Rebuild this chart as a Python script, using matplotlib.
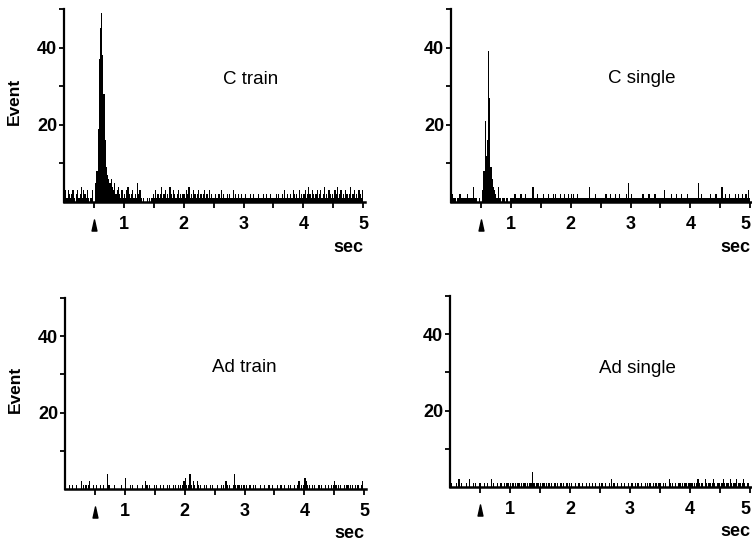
"""
Peristimulus histograms: C / Ad fibre stimulation, train vs single pulse.
Counts per 20 ms bin, 0-5 s, stimulus at 0.5 s.
"""

import numpy as np
import matplotlib.pyplot as plt
from matplotlib.path import Path
from matplotlib.transforms import blended_transform_factory

plt.rcParams['font.family'] = ['Liberation Sans', 'DejaVu Sans']

bin_width = 0.02
stim_time = 0.5

# Counts per bin, one row = 0.5 s (25 bins)
c_train = [
    2, 3, 1, 3, 2, 1, 2, 3, 1, 0, 2, 3, 1, 2, 4, 1, 3, 2, 1, 3, 1, 0, 1, 3, 0,
    0, 5, 8, 19, 37, 45, 49, 38, 28, 16, 9, 7, 6, 5, 6, 4, 3, 5, 2, 3, 4, 2, 1, 3, 1,
    2, 1, 3, 4, 2, 1, 2, 3, 1, 2, 1, 5, 2, 3, 1, 0, 1, 0, 0, 1, 0, 1, 0, 1, 2,
    1, 3, 1, 2, 1, 2, 4, 1, 2, 3, 1, 2, 1, 4, 2, 1, 3, 2, 1, 2, 3, 1, 2, 1, 2,
    2, 1, 3, 2, 4, 1, 2, 1, 3, 2, 1, 2, 3, 1, 2, 1, 2, 3, 1, 2, 1, 3, 1, 2, 1,
    1, 2, 1, 1, 2, 1, 3, 1, 2, 1, 1, 2, 1, 2, 1, 1, 3, 1, 2, 1, 2, 1, 1, 2, 1,
    1, 2, 1, 1, 1, 2, 1, 1, 2, 1, 1, 1, 2, 1, 1, 1, 2, 1, 1, 2, 1, 1, 2, 1, 1,
    1, 1, 2, 1, 2, 1, 1, 2, 1, 3, 1, 2, 1, 1, 2, 1, 3, 2, 1, 2, 1, 3, 1, 2, 1,
    2, 3, 1, 2, 4, 2, 1, 3, 2, 1, 2, 3, 1, 2, 3, 1, 2, 4, 1, 2, 1, 3, 2, 1, 2,
    1, 3, 2, 4, 1, 2, 3, 1, 2, 1, 3, 2, 1, 2, 4, 1, 2, 3, 1, 2, 1, 3, 2, 1, 3,
]

c_single = [
    1, 2, 1, 1, 0, 1, 1, 2, 1, 1, 1, 1, 1, 2, 1, 1, 1, 1, 4, 1, 1, 1, 0, 1, 0,
    0, 3, 8, 21, 12, 16, 39, 27, 9, 6, 4, 3, 2, 1, 4, 1, 1, 0, 1, 1, 0, 1, 1, 0, 1,
    1, 1, 1, 2, 1, 1, 1, 1, 2, 1, 1, 1, 2, 1, 1, 1, 1, 1, 4, 1, 1, 1, 2, 1, 1,
    1, 1, 2, 1, 1, 1, 2, 1, 1, 1, 2, 1, 2, 1, 1, 1, 2, 1, 1, 2, 1, 1, 1, 2, 1,
    2, 1, 2, 1, 1, 2, 1, 1, 1, 1, 1, 1, 1, 1, 1, 4, 1, 1, 1, 1, 2, 1, 1, 1, 1,
    1, 1, 1, 1, 2, 1, 1, 1, 2, 1, 1, 1, 2, 1, 1, 2, 1, 1, 1, 1, 1, 2, 1, 5, 1,
    2, 1, 1, 1, 1, 1, 1, 1, 1, 1, 2, 1, 1, 1, 1, 2, 1, 1, 1, 1, 2, 1, 1, 1, 1,
    1, 1, 1, 3, 1, 1, 1, 1, 1, 2, 1, 1, 1, 2, 1, 1, 1, 2, 1, 1, 1, 1, 2, 1, 1,
    1, 1, 1, 1, 1, 1, 5, 1, 1, 2, 1, 1, 1, 1, 1, 1, 2, 1, 1, 1, 1, 2, 1, 1, 1,
    1, 4, 1, 1, 2, 1, 1, 2, 1, 1, 1, 1, 2, 1, 1, 2, 1, 1, 2, 1, 1, 2, 1, 3, 1,
]

ad_train = [
    1, 0, 0, 1, 0, 0, 1, 0, 0, 1, 0, 0, 0, 2, 0, 1, 0, 1, 0, 1, 2, 0, 0, 1, 0,
    0, 1, 0, 0, 1, 0, 0, 1, 0, 0, 4, 1, 1, 0, 0, 0, 1, 0, 0, 0, 0, 0, 1, 0, 0,
    3, 0, 0, 0, 1, 0, 1, 0, 0, 0, 1, 0, 0, 0, 1, 0, 0, 2, 1, 0, 1, 0, 0, 0, 1,
    0, 1, 0, 0, 1, 0, 0, 1, 0, 0, 1, 0, 1, 0, 0, 1, 0, 1, 0, 1, 0, 1, 0, 1, 2,
    3, 1, 0, 1, 4, 1, 0, 2, 1, 0, 2, 1, 0, 1, 0, 0, 1, 0, 1, 0, 0, 1, 0, 1, 0,
    0, 0, 1, 0, 0, 1, 0, 1, 0, 2, 1, 0, 1, 0, 0, 1, 4, 1, 0, 1, 1, 0, 1, 0, 1,
    0, 1, 0, 0, 1, 0, 0, 1, 0, 1, 0, 0, 0, 1, 0, 0, 1, 0, 0, 0, 1, 0, 0, 1, 0,
    0, 0, 1, 0, 0, 1, 0, 0, 1, 0, 0, 1, 0, 1, 0, 0, 1, 0, 0, 1, 2, 0, 1, 0, 1,
    3, 2, 1, 0, 1, 0, 1, 0, 1, 0, 0, 1, 1, 0, 1, 0, 0, 1, 0, 0, 1, 0, 1, 0, 1,
    2, 1, 0, 1, 0, 1, 0, 0, 1, 0, 1, 1, 0, 1, 0, 1, 0, 1, 0, 1, 1, 0, 1, 2, 0,
]

ad_single = [
    0, 1, 0, 0, 0, 1, 0, 2, 0, 1, 0, 0, 0, 1, 0, 0, 2, 0, 0, 1, 0, 1, 0, 0, 1,
    1, 0, 0, 1, 0, 0, 1, 0, 0, 2, 0, 1, 0, 0, 1, 0, 0, 1, 0, 0, 1, 0, 1, 1, 0,
    1, 0, 1, 0, 1, 0, 1, 1, 0, 1, 0, 1, 1, 0, 1, 0, 1, 1, 4, 1, 1, 0, 1, 1, 0,
    1, 0, 1, 1, 0, 1, 0, 1, 0, 1, 0, 0, 1, 0, 1, 0, 0, 1, 0, 1, 0, 0, 1, 0, 1,
    0, 1, 0, 0, 1, 0, 0, 1, 0, 0, 1, 0, 0, 1, 0, 0, 1, 0, 1, 0, 0, 1, 0, 0, 1,
    0, 1, 0, 0, 1, 0, 0, 1, 0, 2, 0, 1, 0, 0, 1, 0, 0, 1, 0, 0, 1, 0, 0, 1, 0,
    0, 1, 0, 0, 1, 0, 1, 0, 0, 1, 0, 0, 1, 0, 1, 0, 1, 0, 0, 1, 0, 1, 0, 1, 1,
    1, 0, 1, 0, 1, 0, 0, 2, 1, 0, 1, 0, 1, 0, 0, 1, 1, 0, 1, 0, 1, 1, 0, 1, 1,
    1, 1, 0, 1, 0, 1, 2, 1, 0, 1, 1, 0, 2, 1, 0, 1, 1, 0, 1, 2, 1, 0, 1, 1, 1,
    0, 1, 2, 1, 0, 1, 1, 0, 2, 1, 0, 1, 1, 2, 0, 1, 1, 0, 1, 2, 1, 0, 1, 1, 0,
]

titles = ['C train', 'C single', 'Ad train', 'Ad single']
x_ticks = [0.5, 1, 1.5, 2, 2.5, 3, 3.5, 4, 4.5, 5]
x_tick_labels = ['', '1', '', '2', '', '3', '', '4', '', '5']
y_ticks = [10, 20, 30, 40, 50]
y_tick_labels = ['', '20', '', '40', '']

W, H = 752, 543
fig = plt.figure(figsize=(W / 100, H / 100), dpi=100)

# axes boxes in pixels: left, baseline (from top), width, height
boxes = [
    (64, 202, 301, 193),
    (451, 202, 301, 193),
    (65, 489, 301, 191),
    (450, 487, 302, 191),
]
title_pos = [(3.12, 31.7), (3.18, 32.0), (3.0, 31.7), (3.13, 31.0)]
data = [c_train, c_single, ad_train, ad_single]

# slim upward triangle for the stimulus mark
tri = Path([(-0.22, -0.5), (0.22, -0.5), (0.0, 0.5), (-0.22, -0.5)],
           [Path.MOVETO, Path.LINETO, Path.LINETO, Path.CLOSEPOLY])

for i, (counts, (l, b, w, h)) in enumerate(zip(data, boxes)):
    ax = fig.add_axes([l / W, 1 - b / H, w / W, h / H])
    edges = np.arange(len(counts) + 1) * bin_width
    ax.stairs(counts, edges, fill=True, color='black', linewidth=0.8)

    ax.set_xlim(0, 5.03)
    ax.set_ylim(0, 50)
    for s in ['top', 'right']:
        ax.spines[s].set_visible(False)
    ax.spines['left'].set_linewidth(1.6)
    ax.spines['bottom'].set_linewidth(1.8)
    ax.spines['left'].set_bounds(0, 50)

    ax.set_xticks(x_ticks)
    ax.set_xticklabels(x_tick_labels)
    ax.set_yticks(y_ticks)
    ax.set_yticklabels(y_tick_labels)
    ax.tick_params(axis='x', length=4, width=1.3, pad=6, labelsize=13)
    ax.tick_params(axis='y', length=3.5, width=1.3, pad=1.5, labelsize=13)
    for lab in ax.get_xticklabels() + ax.get_yticklabels():
        lab.set_fontweight('bold')
    if i % 2 == 1:
        # right column runs to the figure edge: keep the last label inside
        ax.get_xticklabels()[-1].set_horizontalalignment('right')

    trans = blended_transform_factory(ax.transData, ax.transAxes)
    ax.plot([stim_time], [-0.12], marker=tri, markersize=8, color='black',
            transform=trans, clip_on=False)
    ax.text(5.0, -0.235, 'sec', transform=trans, ha='right', va='center',
            fontsize=13, fontweight='bold')

    tx, ty = title_pos[i]
    ax.text(tx, ty, titles[i], ha='center', va='center', fontsize=13.5)

    if i % 2 == 0:
        ax.text(-0.165, 0.52, 'Event', transform=ax.transAxes, rotation=90,
                ha='center', va='center', fontsize=12.5, fontweight='bold')

fig.savefig('out.png', dpi=100)
